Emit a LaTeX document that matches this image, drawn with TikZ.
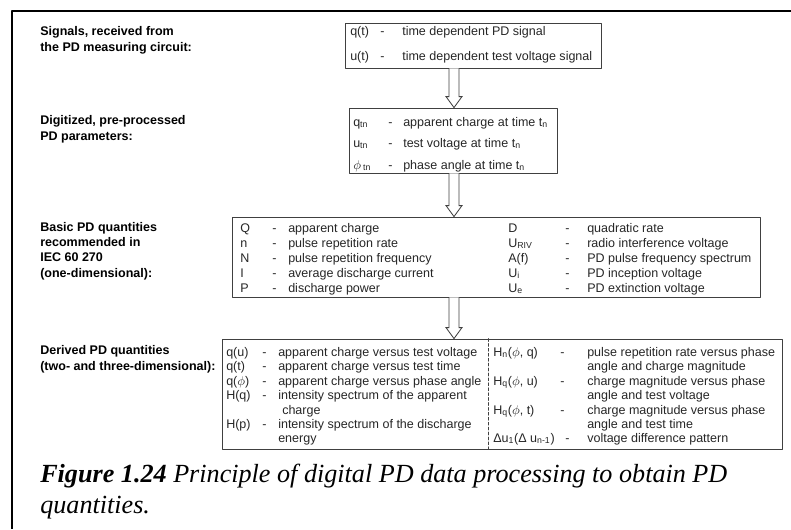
\documentclass[tikz,border=0pt]{standalone}
\usepackage{fontspec}
\setmainfont{Liberation Sans}
\newfontfamily\capfont{Liberation Serif}
\usetikzlibrary{fit,calc}

\tikzset{
  box/.style={draw=black!75, line width=0.6pt, inner sep=0pt},
  lbl/.style={anchor=base west, inner sep=0pt, align=left, font=\fontsize{8.9}{10.8}\selectfont\bfseries},
  txt/.style={anchor=base west, inner sep=0pt, text=black!85, font=\fontsize{8.9}{10.7}\selectfont},
  blockarrow/.style={draw=black!75, line width=0.6pt, fill=white, line join=miter},
  capt/.style={anchor=base west, inner sep=0pt, font=\capfont\fontsize{18.6}{22}\selectfont\itshape},
}
% hollow block arrow from the bottom of one box to the top of the next
\newcommand{\hollowarrow}[2]{%
  \draw[blockarrow] ($(#1.south -| axis)+(-5,0)$) -- ($(#2.north -| axis)+(-5,-11)$) -- ++(-3,0)
    -- (#2.north -| axis) -- ($(#2.north -| axis)+(8,-11)$) -- ++(-3,0) -- ($(#1.south -| axis)+(5,0)$);}

\begin{document}
\begin{tikzpicture}[x=0.025cm, y=-0.025cm, line join=round, line cap=round]
	\useasboundingbox (0,0) rectangle (791,529);
	\draw[line width=1.5pt, line cap=butt] (791,11) -- (12,11) -- (12,529);
	\coordinate (axis) at (454,0);
	\coordinate (split) at (488,0);

	% boxes
	\node[box, fit={(345,23) (601,68)}] (sig) {};
	\node[box, fit={(349,108) (557,173)}] (dig) {};
	\node[box, fit={(232,217) (760,297)}] (basic) {};
	\node[box, fit={(222,339) (782,449)}] (der) {};
	\draw[draw=black!75, line width=0.6pt, dash pattern=on 2pt off 1.5pt] (der.north -| split) -- (der.south -| split);

	\hollowarrow{sig}{dig}
	\hollowarrow{dig}{basic}
	\hollowarrow{basic}{der}

	% left labels (base = last line)
	\node[lbl] (lsig) at (40,51) {Signals, received from\\the PD measuring circuit:};
	\node[lbl] (ldig) at (40,140) {Digitized, pre-processed\\PD parameters:};
	\node[lbl] (lbasic) at (40,277) {Basic PD quantities\\recommended in\\IEC 60 270\\(one-dimensional):};
	\node[lbl] (lder) at (40,370) {Derived PD quantities\\(two- and three-dimensional):};

	% signals
	\foreach \y/\s/\d [count=\i] in {31/q(t)/time dependent PD signal, 56/u(t)/time dependent test voltage signal} {
		\node[txt] (sigs\i) at (350,\y+4) {\s};
		\node[txt] (sigm\i) at (380,\y+4) {-};
		\node[txt] (sigd\i) at (402,\y+4) {\d};
	}

	% digitized parameters
	\foreach \y/\s/\d [count=\i] in {122/q\textsubscript{tn}/apparent charge at time t\textsubscript{n},
		143.5/u\textsubscript{tn}/test voltage at time t\textsubscript{n},
		165/$\phi$\,\textsubscript{tn}/phase angle at time t\textsubscript{n}} {
		\node[txt] (digs\i) at (353,\y+4) {\s};
		\node[txt] (digm\i) at (388,\y+4) {-};
		\node[txt] (digd\i) at (403,\y+4) {\d};
	}

	% basic quantities
	\foreach \y/\s/\d [count=\i] in {228/Q/apparent charge, 243/n/pulse repetition rate,
		258/N/pulse repetition frequency, 273/I/average discharge current, 288/P/discharge power} {
		\node[txt] (bas\i) at (240,\y+4) {\s};
		\node[txt] (basm\i) at (272,\y+4) {-};
		\node[txt] (basd\i) at (288,\y+4) {\d};
	}
	\foreach \y/\s/\d [count=\i] in {228/D/quadratic rate, 243/U\textsubscript{RIV}/radio interference voltage,
		258/A(f)/PD pulse frequency spectrum, 273/U\textsubscript{i}/PD inception voltage,
		288/U\textsubscript{e}/PD extinction voltage} {
		\node[txt] (bbs\i) at (508,\y+4) {\s};
		\node[txt] (bbsm\i) at (565,\y+4) {-};
		\node[txt] (bbsd\i) at (587,\y+4) {\d};
	}

	% derived quantities
	\foreach \y/\s/\d [count=\i] in {352/q(u)/apparent charge versus test voltage,
		366/q(t)/apparent charge versus test time,
		381/q($\phi$)/apparent charge versus phase angle,
		395/H(q)/intensity spectrum of the apparent,
		424/H(p)/intensity spectrum of the discharge} {
		\node[txt] (ders\i) at (226,\y+4) {\s};
		\node[txt] (derm\i) at (262,\y+4) {-};
		\node[txt] (derd\i) at (278,\y+4) {\d};
	}
	\node[txt] (derc1) at (282,414) {charge};
	\node[txt] (derc2) at (278,442) {energy};
	\foreach \y/\s/\d [count=\i] in {352/{H\textsubscript{n}($\phi$, q)}/pulse repetition rate versus phase,
		381/{H\textsubscript{q}($\phi$, u)}/charge magnitude versus phase,
		410/{H\textsubscript{q}($\phi$, t)}/charge magnitude versus phase} {
		\node[txt] (drs\i) at (493,\y+4) {\s};
		\node[txt] (drm\i) at (560,\y+4) {-};
		\node[txt] (drd\i) at (587,\y+4) {\d};
	}
	\foreach \y/\d [count=\i] in {366/angle and charge magnitude, 395/angle and test voltage, 424/angle and test time} {
		\node[txt] (drc\i) at (587,\y+4) {\d};
	}
	\node[txt] (drs4) at (493,442) {Δu\textsubscript{1}(Δ u\textsubscript{n-1})};
	\node[txt] (drm4) at (565,442) {-};
	\node[txt] (drd4) at (587,442) {voltage difference pattern};

	% caption
	\node[capt] (cap1) at (40,482) {\textbf{Figure 1.24} Principle of digital PD data processing to obtain PD};
	\node[capt] (cap2) at (40,513) {quantities.};
\end{tikzpicture}
\end{document}
